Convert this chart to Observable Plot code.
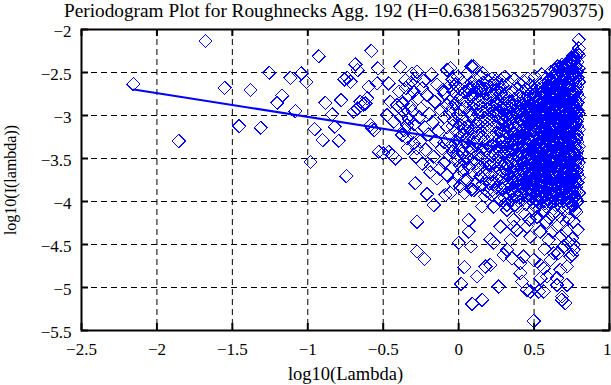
<!DOCTYPE html>
<html><head><meta charset="utf-8">
<script src="https://cdn.jsdelivr.net/npm/d3@7"></script>
<script src="https://cdn.jsdelivr.net/npm/@observablehq/plot@0.6"></script>
<style>
html,body{margin:0;padding:0;background:#fff;overflow:hidden;width:611px;height:385px;}
#title{position:relative;height:16px;width:611px;}
#title span{position:absolute;left:64px;top:2.5px;white-space:nowrap;font-family:"Liberation Serif",serif;font-size:19.3px;line-height:16px;color:#000;}
#chart svg{display:block;}
</style></head><body>
<div id="title"><span id="titleText"></span></div>
<div id="chart"></div>
<script>
const titleText = "Periodogram Plot for Roughnecks Agg. 192 (H=0.638156325790375)";
const xLabel = "log10(Lambda)";
const yLabel = "log10(I(lambda))";
const xTicks = [-2.5, -2, -1.5, -1, -0.5, 0, 0.5, 1];
const yTicks = [-2, -2.5, -3, -3.5, -4, -4.5, -5, -5.5];
const fitLine = [[-2.153, -2.697], [0.797, -3.512]];

// low-frequency, sparse points (x < -0.1)
const sparsePoints = [
[-2.157,-2.635],[-1.855,-3.297],[-1.678,-2.132],[-1.552,-2.678],[-1.455,-3.123],[-1.380,-2.705],
[-1.312,-3.143],[-1.256,-2.504],[-1.203,-2.852],[-1.170,-2.770],[-1.115,-2.562],[-1.082,-2.949],
[-1.042,-2.511],[-1.009,-2.608],[-0.982,-3.540],[-0.954,-3.158],[-0.927,-2.310],[-0.901,-3.286],
[-0.883,-2.852],[-0.839,-2.987],[-0.821,-3.131],[-0.795,-3.294],[-0.779,-2.821],[-0.757,-2.581],
[-0.744,-3.705],[-0.739,-2.560],[-0.717,-2.608],[-0.695,-2.957],[-0.684,-2.406],[-0.669,-2.473],
[-0.669,-2.918],[-0.651,-2.841],[-0.630,-2.870],[-0.618,-2.860],[-0.607,-2.801],[-0.596,-2.667],
[-0.585,-3.112],[-0.578,-2.248],[-0.574,-3.150],[-0.560,-3.170],[-0.540,-2.627],[-0.536,-2.452],
[-0.530,-3.422],[-0.500,-3.440],[-0.474,-2.995],[-0.464,-2.627],[-0.464,-3.422],[-0.452,-2.841],
[-0.440,-3.460],[-0.430,-3.073],[-0.419,-3.498],[-0.408,-2.879],
[-0.386,-2.434],[-0.375,-3.228],[-0.364,-2.957],[-0.353,-2.589],[-0.342,-3.112],[-0.342,-3.266],
[-0.331,-2.763],[-0.320,-2.899],[-0.309,-2.511],[-0.298,-2.725],[-0.298,-3.324],[-0.276,-3.382],
[-0.287,-3.789],[-0.276,-4.235],[-0.276,-4.583],[-0.227,-4.668],[-0.209,-3.913],[-0.165,-4.041],
[-0.143,-3.731],[-0.187,-3.576],[-0.276,-2.492],[-0.242,-2.685],
[-0.395,-2.72],[-0.380,-3.02],[-0.372,-2.86],[-0.360,-3.17],[-0.350,-2.68],[-0.338,-3.38],
[-0.330,-3.04],[-0.318,-2.62],[-0.310,-3.21],[-0.305,-2.95],[-0.295,-3.10],[-0.290,-2.57],
[-0.283,-3.48],[-0.270,-2.80],[-0.262,-3.02],[-0.255,-3.30],[-0.248,-2.92],[-0.240,-3.56],
[-0.232,-2.60],[-0.225,-3.14],[-0.218,-3.40],[-0.210,-2.76],[-0.202,-3.22],[-0.195,-2.98],
[-0.188,-3.66],[-0.180,-2.52],[-0.172,-3.08],[-0.165,-3.48],[-0.158,-2.84],[-0.150,-3.30],
[-0.142,-2.64],[-0.135,-3.18],[-0.125,-3.62],[-0.118,-2.94],[-0.110,-3.38],[-0.105,-2.70]
];

// scattered points below the main cloud (x >= -0.1)
const lowPoints = [
[-0.088,-3.924],[-0.077,-3.692],[-0.033,-3.789],[0.067,-4.215],[0.067,-4.351],[0.000,-4.479],
[0.082,-4.525],[0.038,-4.764],[0.016,-4.958],[0.122,-4.873],[0.089,-5.190],[0.155,-5.144],
[0.265,-4.989],[0.155,-4.060],[0.210,-4.439],[0.232,-4.479],[0.177,-4.757],[0.210,-4.738],
[0.299,-4.621],[0.321,-4.563],[0.354,-4.660],[0.277,-4.293],[0.343,-4.447],[0.387,-4.331],
[0.409,-4.718],[0.232,-4.060],[0.321,-4.099],[0.365,-4.215],[0.498,-5.390],[0.420,-4.931],
[0.453,-5.028],[0.531,-5.047],[0.542,-4.738],[0.685,-5.105],[0.707,-5.182],[0.630,-4.602],
[0.696,-4.525],[0.741,-4.641],[0.718,-4.757],[0.674,-4.796],[0.763,-4.563],[0.652,-4.970],
[0.718,-4.970],[0.586,-4.873],[0.608,-4.680],[0.542,-4.351],[0.597,-4.447],[0.475,-4.409],
[0.498,-4.680],[0.431,-4.641],[0.409,-4.834],[0.752,-4.428],[0.718,-4.351],[0.763,-4.235],
[0.696,-4.215],[0.652,-4.293],[0.752,-4.041],[0.630,-4.137],[0.498,-4.099],[0.387,-4.060],
[0.365,-4.293],[0.453,-4.293],[0.475,-5.047],[0.542,-4.893],[0.564,-5.047],[0.564,-4.776],
[0.652,-4.893],[0.685,-5.144],[0.752,-4.621],[0.763,-4.505],
[0.520,-4.18],[0.560,-4.12],[0.580,-4.24],[0.600,-4.19],[0.670,-4.17],[0.700,-4.10],
[0.730,-4.20],[0.780,-4.12],[0.440,-4.15],[0.470,-4.21],[0.620,-4.35],[0.680,-4.40],
[0.730,-4.48],[0.570,-4.55],[0.660,-4.60],[0.790,-4.33]
];

// middle band, column by column: [x, [y...]]
const midColumns = [
[-0.095,[-2.74,-3.02,-3.31,-3.55]],
[-0.077,[-2.47,-2.88,-3.14]],
[-0.060,[-2.66,-2.97,-3.24,-3.47]],
[-0.055,[-2.45,-2.83,-3.36,-3.90]],
[-0.040,[-2.58,-2.91,-3.12,-3.42,-3.61]],
[-0.033,[-2.72,-3.05]],
[-0.020,[-2.64,-2.86,-3.18,-3.33,-3.52]],
[-0.005,[-2.55,-2.77,-2.99,-3.27,-3.46,-3.71]],
[0.010,[-2.69,-2.93,-3.11,-3.39,-3.58,-3.82]],
[0.025,[-2.61,-2.81,-3.03,-3.22,-3.44,-3.64]],
[0.040,[-2.73,-2.90,-3.15,-3.31,-3.53,-3.75,-3.90]],
[0.056,[-2.51,-2.66,-2.84,-3.07,-3.26,-3.48,-3.75]],
[0.070,[-2.70,-2.95,-3.13,-3.36,-3.60]],
[0.085,[-2.43,-2.62,-2.78,-3.00,-3.19,-3.41,-3.68,-3.86]],
[0.100,[-2.43,-2.67,-2.87,-3.05,-3.28,-3.50,-3.87]],
[0.115,[-2.58,-2.74,-2.93,-3.12,-3.34,-3.56,-3.79]],
[0.130,[-2.66,-2.82,-2.99,-3.21,-3.45,-3.63]],
[0.145,[-2.55,-2.71,-2.89,-3.08,-3.27,-3.49,-3.71]],
[0.160,[-2.51,-2.62,-2.79,-2.96,-3.15,-3.38,-3.58,-3.80]],
[0.175,[-2.69,-2.85,-3.03,-3.22,-3.43,-3.66,-3.94]],
[0.190,[-2.59,-2.75,-2.92,-3.10,-3.31,-3.52,-3.74,-3.88]],
[0.205,[-2.66,-2.81,-2.98,-3.17,-3.36,-3.58,-3.79]],
[0.220,[-2.57,-2.72,-2.88,-3.05,-3.25,-3.47,-3.69,-3.92]],
[0.235,[-2.63,-2.78,-2.95,-3.13,-3.33,-3.55,-3.77]],
[0.250,[-2.59,-2.70,-2.86,-3.01,-3.20,-3.41,-3.62,-3.84]],
[0.265,[-2.67,-2.82,-2.97,-3.09,-3.27,-3.49,-3.70,-3.95]],
[0.280,[-2.59,-2.74,-2.90,-3.04,-3.18,-3.37,-3.56,-3.78,-3.98]],
[0.292,[-2.65,-2.80,-2.94,-3.11,-3.29,-3.45,-3.66,-3.86]]
];

// dense high-frequency cloud, column by column: [x, [y...]]
const denseColumns = [
[0.305,[-2.55,-2.86,-2.99,-3.06,-3.19,-3.25,-3.37,-3.44,-3.56,-3.62,-3.74,-3.82,-3.96]],
[0.321,[-2.78,-2.93,-3.01,-3.13,-3.20,-3.33,-3.39,-3.50,-3.58,-3.69,-3.77,-3.90,-4.04]],
[0.337,[-2.62,-2.84,-2.97,-3.05,-3.16,-3.24,-3.31,-3.42,-3.53,-3.60,-3.72,-3.79,-3.92]],
[0.353,[-2.73,-2.89,-3.01,-3.09,-3.18,-3.29,-3.37,-3.48,-3.55,-3.66,-3.74,-3.87,-3.98]],
[0.368,[-2.58,-2.81,-2.95,-3.03,-3.14,-3.22,-3.33,-3.40,-3.52,-3.59,-3.70,-3.78,-3.91,-4.05]],
[0.384,[-2.69,-2.88,-2.97,-3.08,-3.16,-3.27,-3.35,-3.46,-3.53,-3.64,-3.72,-3.84,-3.94]],
[0.399,[-2.63,-2.78,-2.92,-3.01,-3.11,-3.20,-3.31,-3.38,-3.49,-3.57,-3.68,-3.76,-3.87,-4.00]],
[0.415,[-2.74,-2.86,-2.95,-3.05,-3.14,-3.25,-3.33,-3.43,-3.51,-3.62,-3.70,-3.81,-3.91]],
[0.430,[-2.60,-2.80,-2.91,-2.99,-3.09,-3.18,-3.28,-3.36,-3.47,-3.55,-3.65,-3.74,-3.85,-3.97]],
[0.446,[-2.69,-2.84,-2.94,-3.04,-3.12,-3.22,-3.31,-3.41,-3.49,-3.60,-3.68,-3.79,-3.88,-4.03]],
[0.461,[-2.57,-2.77,-2.89,-2.97,-3.07,-3.16,-3.26,-3.34,-3.45,-3.53,-3.63,-3.72,-3.82,-3.92]],
[0.476,[-2.65,-2.82,-2.93,-3.01,-3.11,-3.19,-3.30,-3.38,-3.48,-3.57,-3.67,-3.75,-3.86,-3.97]],
[0.491,[-2.72,-2.87,-2.95,-3.05,-3.14,-3.24,-3.32,-3.43,-3.51,-3.61,-3.70,-3.80,-3.89,-4.01]],
[0.506,[-2.55,-2.76,-2.90,-2.98,-3.09,-3.17,-3.27,-3.36,-3.46,-3.54,-3.65,-3.73,-3.83,-3.93,-4.06]],
[0.521,[-2.68,-2.81,-2.92,-3.03,-3.11,-3.21,-3.30,-3.40,-3.48,-3.59,-3.67,-3.77,-3.86,-3.98]],
[0.536,[-2.62,-2.75,-2.86,-2.96,-3.06,-3.14,-3.25,-3.33,-3.43,-3.52,-3.62,-3.70,-3.81,-3.90,-4.03]],
[0.551,[-2.52,-2.69,-2.80,-2.90,-3.00,-3.08,-3.19,-3.27,-3.37,-3.46,-3.56,-3.64,-3.75,-3.84,-3.95]],
[0.566,[-2.64,-2.75,-2.84,-2.94,-3.02,-3.13,-3.21,-3.31,-3.40,-3.50,-3.58,-3.69,-3.77,-3.88,-4.00]],
[0.581,[-2.57,-2.68,-2.79,-2.87,-2.98,-3.06,-3.16,-3.25,-3.35,-3.43,-3.54,-3.62,-3.72,-3.81,-3.92,-4.06]],
[0.596,[-2.61,-2.72,-2.82,-2.91,-3.01,-3.09,-3.20,-3.28,-3.38,-3.47,-3.57,-3.65,-3.76,-3.85,-3.97]],
[0.611,[-2.49,-2.66,-2.76,-2.85,-2.95,-3.03,-3.14,-3.22,-3.32,-3.41,-3.51,-3.59,-3.70,-3.78,-3.89,-4.02]],
[0.626,[-2.55,-2.64,-2.74,-2.82,-2.92,-3.00,-3.11,-3.19,-3.29,-3.38,-3.48,-3.56,-3.67,-3.75,-3.86,-3.95]],
[0.641,[-2.47,-2.60,-2.70,-2.78,-2.89,-2.97,-3.07,-3.16,-3.26,-3.34,-3.45,-3.53,-3.63,-3.72,-3.82,-3.91,-4.04]],
[0.656,[-2.43,-2.53,-2.64,-2.72,-2.82,-2.91,-3.01,-3.09,-3.20,-3.28,-3.38,-3.47,-3.57,-3.65,-3.76,-3.84,-3.96]],
[0.671,[-2.48,-2.57,-2.67,-2.75,-2.86,-2.94,-3.04,-3.13,-3.23,-3.31,-3.42,-3.50,-3.60,-3.69,-3.79,-3.88,-3.99]],
[0.686,[-2.41,-2.51,-2.61,-2.69,-2.80,-2.88,-2.98,-3.07,-3.17,-3.25,-3.36,-3.44,-3.54,-3.63,-3.73,-3.82,-3.93,-4.07]],
[0.701,[-2.45,-2.54,-2.64,-2.73,-2.83,-2.91,-3.02,-3.10,-3.20,-3.29,-3.39,-3.47,-3.58,-3.66,-3.76,-3.85,-3.97]],
[0.716,[-2.39,-2.48,-2.58,-2.67,-2.77,-2.85,-2.96,-3.04,-3.14,-3.23,-3.33,-3.41,-3.52,-3.60,-3.70,-3.79,-3.89,-4.02]],
[0.731,[-2.42,-2.51,-2.62,-2.70,-2.80,-2.89,-2.99,-3.07,-3.18,-3.26,-3.36,-3.45,-3.55,-3.63,-3.74,-3.82,-3.93,-4.08]],
[0.746,[-2.36,-2.45,-2.56,-2.64,-2.74,-2.83,-2.93,-3.01,-3.12,-3.20,-3.30,-3.39,-3.49,-3.57,-3.68,-3.76,-3.86,-3.98]],
[0.760,[-2.30,-2.40,-2.50,-2.58,-2.69,-2.77,-2.87,-2.96,-3.06,-3.14,-3.25,-3.33,-3.43,-3.52,-3.62,-3.70,-3.80,-3.91,-4.05]],
[0.774,[-2.34,-2.43,-2.54,-2.62,-2.72,-2.81,-2.91,-2.99,-3.10,-3.18,-3.28,-3.37,-3.47,-3.55,-3.66,-3.74,-3.84,-3.95,-4.10]],
[0.787,[-2.28,-2.38,-2.48,-2.56,-2.67,-2.75,-2.85,-2.94,-3.04,-3.12,-3.23,-3.31,-3.41,-3.50,-3.60,-3.68,-3.78,-3.88,-4.00]],
[0.797,[-2.12,-2.22,-2.30,-2.45,-2.61,-2.79,-2.98,-3.16,-3.36,-3.55,-3.72,-3.90]]
];

// extra points filling the core of the dense cloud: [x, [y...]]
const coreColumns = [
[0.452,[-2.90,-3.02,-3.20,-3.39,-3.58,-3.77,-3.93]],
[0.468,[-2.95,-3.12,-3.29,-3.50,-3.69,-3.86]],
[0.483,[-2.87,-3.06,-3.24,-3.42,-3.61,-3.80,-3.94]],
[0.498,[-2.80,-2.99,-3.18,-3.37,-3.56,-3.76,-3.91]],
[0.513,[-2.84,-3.03,-3.22,-3.41,-3.60,-3.79,-3.98]],
[0.528,[-2.76,-2.97,-3.15,-3.35,-3.53,-3.72,-3.92]],
[0.543,[-2.81,-3.01,-3.19,-3.38,-3.58,-3.77,-3.96]],
[0.558,[-2.73,-2.92,-3.11,-3.31,-3.50,-3.69,-3.89]],
[0.573,[-2.71,-2.90,-3.09,-3.28,-3.47,-3.66,-3.86,-4.02]],
[0.588,[-2.66,-2.85,-3.04,-3.23,-3.42,-3.61,-3.80,-3.98]],
[0.603,[-2.70,-2.89,-3.07,-3.26,-3.45,-3.64,-3.83,-4.00]],
[0.618,[-2.60,-2.79,-2.98,-3.17,-3.36,-3.55,-3.73,-3.92]],
[0.633,[-2.56,-2.75,-2.94,-3.13,-3.31,-3.50,-3.69,-3.88,-4.00]],
[0.648,[-2.50,-2.69,-2.87,-3.05,-3.24,-3.42,-3.61,-3.80,-3.98]],
[0.663,[-2.46,-2.62,-2.80,-2.99,-3.18,-3.36,-3.55,-3.74,-3.92]],
[0.678,[-2.44,-2.64,-2.83,-3.02,-3.21,-3.39,-3.58,-3.77,-3.96]],
[0.693,[-2.47,-2.65,-2.84,-3.03,-3.22,-3.41,-3.60,-3.79,-3.99]],
[0.708,[-2.42,-2.60,-2.79,-2.98,-3.17,-3.36,-3.54,-3.73,-3.93]],
[0.723,[-2.45,-2.64,-2.83,-3.02,-3.21,-3.40,-3.59,-3.78,-3.97]],
[0.738,[-2.39,-2.58,-2.77,-2.96,-3.15,-3.34,-3.53,-3.72,-3.92]],
[0.753,[-2.33,-2.52,-2.71,-2.90,-3.09,-3.28,-3.47,-3.66,-3.85,-4.03]],
[0.767,[-2.37,-2.56,-2.75,-2.94,-3.13,-3.32,-3.51,-3.70,-3.89]],
[0.781,[-2.31,-2.50,-2.69,-2.88,-3.07,-3.26,-3.45,-3.64,-3.83,-3.97]]
];

document.getElementById("titleText").textContent = titleText;

const flat = cols => cols.flatMap(([x, ys]) => ys.map(y => [x, y]));
const points = [...sparsePoints, ...lowPoints, ...flat(midColumns), ...flat(denseColumns), ...flat(coreColumns)];

const W = 611, H = 369, mL = 81, mR = 2, mT = 13, mB = 55;
const innerW = W - mL - mR, innerH = H - mT - mB;
const tickLen = 7;
const fmt = d => (d < 0 ? "\u2212" : "") + Math.abs(d);

const diamond = {
  draw(context, size) {
    const r = Math.sqrt(size / Math.PI) * 1.1;
    context.moveTo(0, -r); context.lineTo(r, 0); context.lineTo(0, r); context.lineTo(-r, 0); context.closePath();
  }
};

const chart = Plot.plot({
  width: W, height: H,
  marginLeft: mL, marginRight: mR, marginTop: mT, marginBottom: mB,
  style: {fontFamily: "'Liberation Serif', serif", fontSize: "17px", color: "#000", background: "#fff", overflow: "visible"},
  x: {domain: [-2.5, 1], axis: null},
  y: {domain: [-5.5, -2], axis: null},
  marks: [
    Plot.ruleX(xTicks, {x: d => d, stroke: "#000", strokeWidth: 1, strokeDasharray: "6,4"}),
    Plot.ruleY(yTicks, {y: d => d, stroke: "#000", strokeWidth: 1, strokeDasharray: "6,4"}),
    Plot.dot(points, {x: d => d[0], y: d => d[1], symbol: diamond, r: 6, stroke: "#0000ff", strokeWidth: 1, fill: "none", shapeRendering: "crispEdges"}),
    Plot.line(fitLine, {x: d => d[0], y: d => d[1], stroke: "#0000ff", strokeWidth: 2}),
    Plot.tickX(xTicks, {x: d => d, insetTop: innerH - tickLen, stroke: "#000", strokeWidth: 2}),
    Plot.tickX(xTicks, {x: d => d, insetBottom: innerH - tickLen, stroke: "#000", strokeWidth: 2}),
    Plot.tickY(yTicks, {y: d => d, insetRight: innerW - tickLen, stroke: "#000", strokeWidth: 2}),
    Plot.tickY(yTicks, {y: d => d, insetLeft: innerW - tickLen, stroke: "#000", strokeWidth: 2}),
    Plot.frame({stroke: "#000", strokeWidth: 2}),
    Plot.text(xTicks.filter(d => d < 1), {x: d => d, text: fmt, frameAnchor: "bottom", lineAnchor: "top", textAnchor: "middle", dy: 12, fill: "#000"}),
    Plot.text(xTicks.filter(d => d >= 1), {x: d => d, text: fmt, frameAnchor: "bottom", lineAnchor: "top", textAnchor: "end", dx: 2, dy: 12, fill: "#000"}),
    Plot.text(yTicks, {y: d => d, text: fmt, frameAnchor: "left", textAnchor: "end", lineAnchor: "middle", dx: -10, dy: 2, fill: "#000"}),
    Plot.text([xLabel], {text: d => d, frameAnchor: "bottom", textAnchor: "middle", lineAnchor: "middle", dy: 44, fontSize: 18.5, fill: "#000"}),
    Plot.text([yLabel], {text: d => d, frameAnchor: "left", textAnchor: "middle", lineAnchor: "middle", rotate: -90, dx: -71, fontSize: 16, fill: "#000"})
  ]
});
document.getElementById("chart").appendChild(chart);
</script></body></html>
